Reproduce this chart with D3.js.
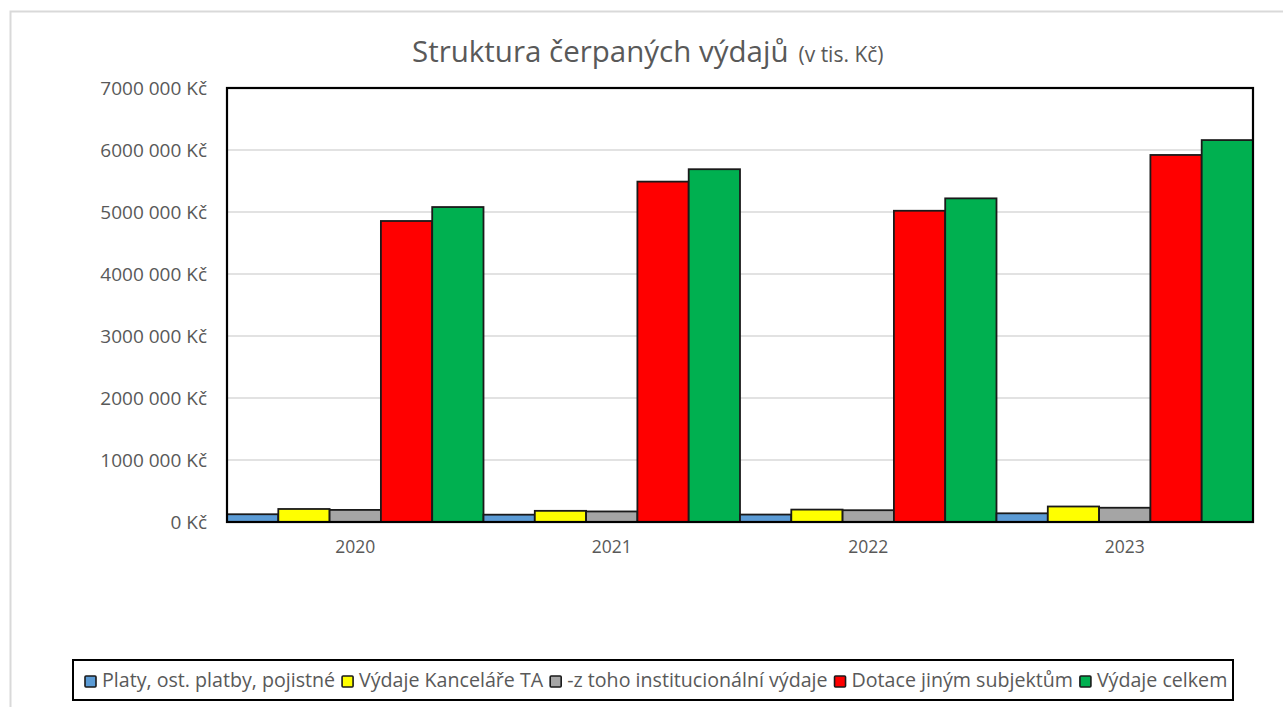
<!DOCTYPE html>
<html>
<head>
<meta charset="utf-8">
<script src="https://cdn.jsdelivr.net/npm/d3@7"></script>
<style>
  body { margin: 0; background: #fff; }
  text { font-family: "Open Sans", sans-serif; }
</style>
</head>
<body>
<div id="chart"></div>
<script>
const years = ["2020", "2021", "2022", "2023"];
const seriesNames = ["Platy, ost. platby, pojistné", "Výdaje Kanceláře TA", "-z toho institucionální výdaje", "Dotace jiným subjektům", "Výdaje celkem"];
const seriesColors = ["#5b9bd5", "#ffff00", "#a5a5a5", "#ff0000", "#00b050"];
const platy = [125000, 118000, 120000, 140000];
const kancelar = [210000, 180000, 200000, 250000];
const instituc = [195000, 170000, 190000, 230000];
const dotace = [4855000, 5490000, 5020000, 5920000];
const celkem = [5080000, 5690000, 5220000, 6160000];
const yTicks = [0, 1000000, 2000000, 3000000, 4000000, 5000000, 6000000, 7000000];
const yTickLabels = ["0 Kč", "1000 000 Kč", "2000 000 Kč", "3000 000 Kč", "4000 000 Kč", "5000 000 Kč", "6000 000 Kč", "7000 000 Kč"];

const allSeries = [platy, kancelar, instituc, dotace, celkem];

var width = 1283, height = 707;
var margin = {top: 88, right: 30, bottom: 185, left: 227};
var plotW = width - margin.left - margin.right,
    plotH = height - margin.top - margin.bottom;

var svg = d3.select("#chart").append("svg")
  .attr("width", width)
  .attr("height", height);

// outer frame
svg.append("rect")
  .attr("x", 10.5).attr("y", 11.5)
  .attr("width", width + 10).attr("height", height + 10)
  .attr("fill", "none")
  .attr("stroke", "#d9d9d9")
  .attr("stroke-width", 2);

var g = svg.append("g")
  .attr("transform", "translate(" + margin.left + "," + margin.top + ")");

var x0 = d3.scaleBand().domain(years).range([0, plotW]).padding(0);
var x1 = d3.scaleBand().domain(d3.range(seriesNames.length)).range([0, x0.bandwidth()]).padding(0);
var y = d3.scaleLinear().domain([0, 7000000]).range([plotH, 0]);

// gridlines
g.selectAll(".grid")
  .data(yTicks.slice(1))
  .enter().append("line")
  .attr("x1", 0).attr("x2", plotW)
  .attr("y1", d => y(d)).attr("y2", d => y(d))
  .attr("stroke", "#d9d9d9")
  .attr("stroke-width", 1.5);

// y axis labels
var yAxis = d3.axisLeft(y)
  .tickValues(yTicks)
  .tickSize(0)
  .tickPadding(20)
  .tickFormat((d, i) => yTickLabels[i]);

g.append("g")
  .attr("class", "y axis")
  .call(yAxis)
  .call(a => a.select(".domain").remove())
  .selectAll("text")
  .attr("fill", "#595959")
  .style("font-size", "19px");

// x axis labels
var xAxis = d3.axisBottom(x0).tickSize(0).tickPadding(19);
g.append("g")
  .attr("class", "x axis")
  .attr("transform", "translate(0," + plotH + ")")
  .call(xAxis)
  .call(a => a.select(".domain").remove())
  .selectAll("text")
  .attr("fill", "#595959")
  .style("font-size", "17.5px");

// bars
var groups = g.selectAll(".year")
  .data(years)
  .enter().append("g")
  .attr("transform", d => "translate(" + x0(d) + ",0)");

groups.selectAll("rect")
  .data((yr, yi) => allSeries.map((s, si) => ({si: si, v: s[yi]})))
  .enter().append("rect")
  .attr("x", d => x1(d.si))
  .attr("width", x1.bandwidth())
  .attr("y", d => y(d.v))
  .attr("height", d => plotH - y(d.v))
  .attr("fill", d => seriesColors[d.si])
  .attr("stroke", "#1a1a1a")
  .attr("stroke-width", 1.8);

// plot border
g.append("rect")
  .attr("x", 0).attr("y", 0)
  .attr("width", plotW).attr("height", plotH)
  .attr("fill", "none")
  .attr("stroke", "#000")
  .attr("stroke-width", 2.2);

// title
var title = svg.append("text")
  .attr("x", 412)
  .attr("y", 62)
  .attr("fill", "#595959");
title.append("tspan").style("font-size", "29.5px").text("Struktura čerpaných výdajů");
title.append("tspan").attr("dx", 10).style("font-size", "21px").text("(v tis. Kč)");

// legend
var legBox = {x: 73, y: 660, w: 1160, h: 40};
svg.append("rect")
  .attr("x", legBox.x).attr("y", legBox.y)
  .attr("width", legBox.w).attr("height", legBox.h)
  .attr("fill", "#fff")
  .attr("stroke", "#000")
  .attr("stroke-width", 2);

var legend = svg.append("g");
var items = legend.selectAll("g")
  .data(seriesNames)
  .enter().append("g");

items.append("rect")
  .attr("width", 11).attr("height", 11)
  .attr("y", -11)
  .attr("fill", (d, i) => seriesColors[i])
  .attr("stroke", "#1a1a1a")
  .attr("stroke-width", 1.6)
  .attr("rx", 1);

var legFont = 16;
var legTexts = items.append("text")
  .attr("x", 17)
  .attr("fill", "#595959")
  .style("font-size", legFont + "px")
  .text(d => d);

// fit legend row to box width
var target = 1143, gap = 7;
var widths = [];
legTexts.each(function() { widths.push(this.getComputedTextLength()); });
var k = (target - widths.length * 17 - (widths.length - 1) * gap) / d3.sum(widths);
legFont = legFont * k;
legTexts.style("font-size", legFont + "px");
widths = [];
legTexts.each(function() { widths.push(this.getComputedTextLength()); });
var cx = 85;
items.attr("transform", function(d, i) {
  var t = "translate(" + cx + ",687)";
  cx += 17 + widths[i] + gap;
  return t;
});
</script>
</body>
</html>
